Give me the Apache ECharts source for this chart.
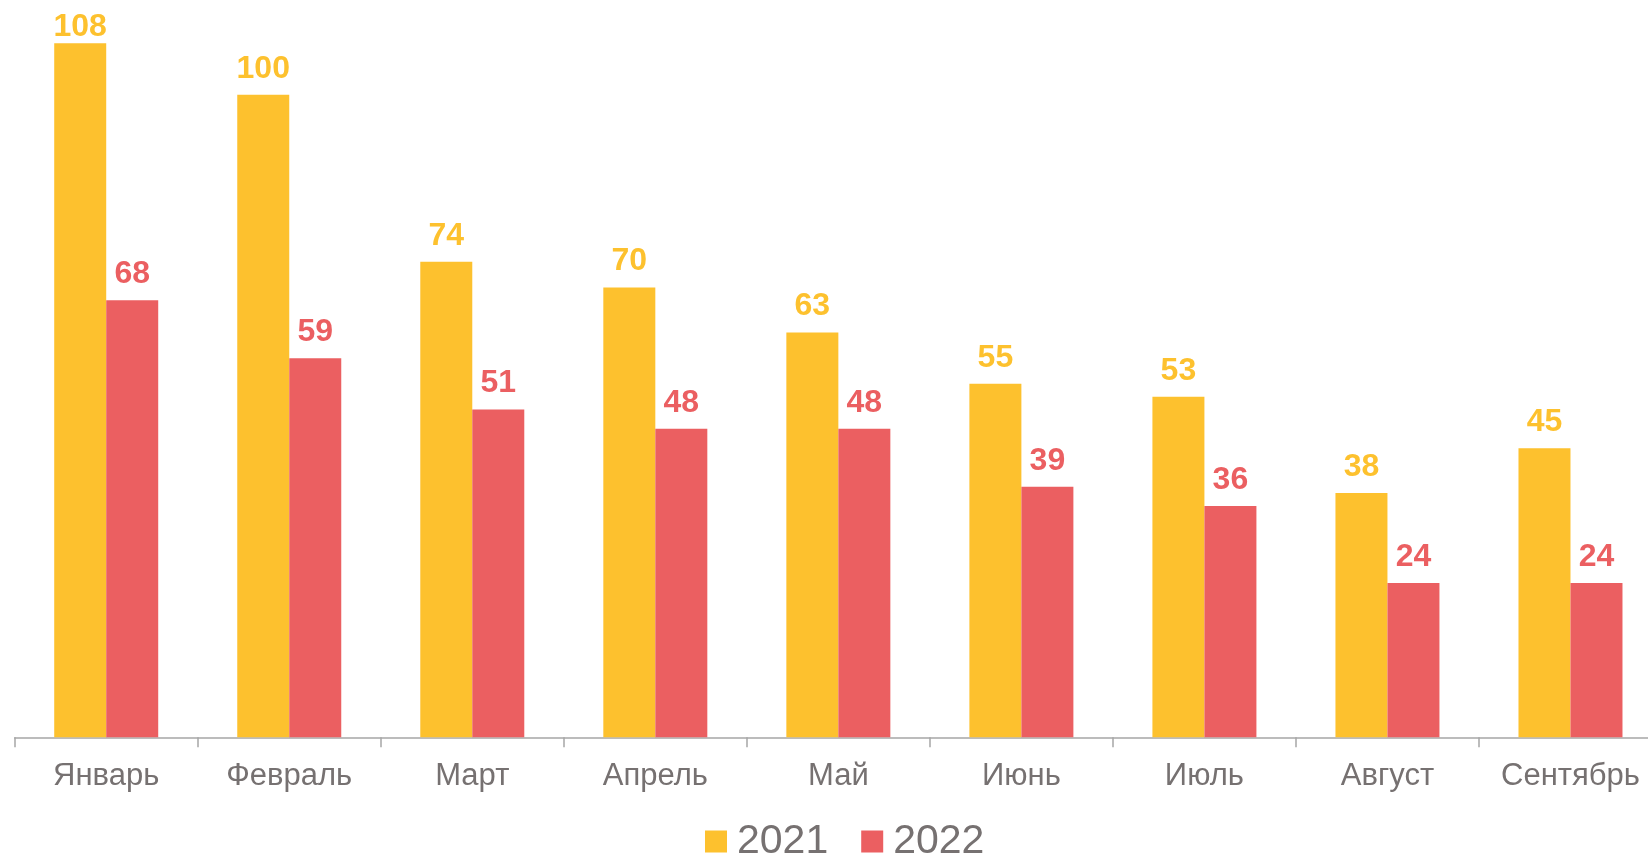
<!DOCTYPE html>
<html>
<head>
<meta charset="utf-8">
<script src="https://cdn.jsdelivr.net/npm/echarts@6/dist/echarts.min.js"></script>
<style>html,body{margin:0;padding:0;background:#fff;overflow:hidden}#c{width:1662px;height:858px}</style>
</head>
<body>
<div id="c"></div>
<script>
const categories = ['Январь','Февраль','Март','Апрель','Май','Июнь','Июль','Август','Сентябрь'];
const series2021 = [108,100,74,70,63,55,53,38,45];
const series2022 = [68,59,51,48,48,39,36,24,24];
const seriesNames = ['2021','2022'];

const FONT = '"Liberation Sans", Arial, sans-serif';
const YELLOW = '#FDC12E';
const RED = '#EB5F61';
const chart = echarts.init(document.getElementById('c'), null, {renderer:'canvas'});
function lbl(color){
  return {show:true, position:'top', distance:10, color:color, fontFamily:FONT, fontWeight:'bold', fontSize:32};
}
// the tallest label is squeezed against the top edge in the original
const data2021 = series2021.map((v,i)=> i===0 ? {value:v, label:{distance:0}} : v);
chart.setOption({
  animation:false,
  backgroundColor:'#fff',
  grid:{left:14.7, right:0, top:43.3, bottom:120.7, containLabel:false},
  legend:{
    data:seriesNames, left:700, top:816, itemWidth:22, itemHeight:22, itemGap:33,
    icon:'rect',
    textStyle:{fontFamily:FONT, fontSize:41, color:'#767171', padding:[0,0,0,5]}
  },
  xAxis:{
    type:'category', data:categories, boundaryGap:true,
    axisLine:{show:true, lineStyle:{color:'#A6A6A6', width:1.5}},
    axisTick:{show:true, length:10, lineStyle:{color:'#A6A6A6', width:1.5}},
    axisLabel:{fontFamily:FONT, fontSize:31, color:'#767171', margin:24, interval:0}
  },
  yAxis:{type:'value', min:0, max:108, show:false, splitLine:{show:false}},
  series:[
    {name:seriesNames[0], type:'bar', data:data2021, barWidth:52, barGap:'0%', itemStyle:{color:YELLOW}, label:lbl(YELLOW)},
    {name:seriesNames[1], type:'bar', data:series2022, barWidth:52, barGap:'0%', itemStyle:{color:RED}, label:lbl(RED)}
  ]
});
</script>
</body>
</html>
